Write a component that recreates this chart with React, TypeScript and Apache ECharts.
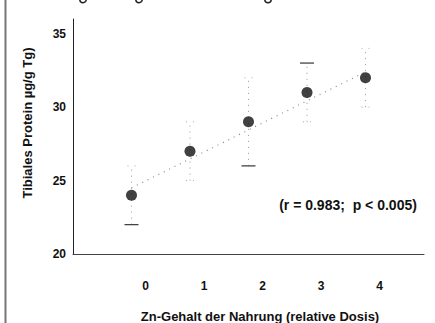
import React, { useEffect, useRef } from "react";
import * as echarts from "echarts";

// Data
const doses = [0, 1, 2, 3, 4];
const xTickLabels = ["0", "1", "2", "3", "4"];
const proteinMeans = [24, 27, 29, 31, 32];
const errLow = [22, 25, 26, 29, 30];
const errHigh = [26, 29, 32, 33, 34];
const regressionLine = [
  [0, 24.5],
  [4, 32.4],
];
const annotation = "(r = 0.983;  p < 0.005)";
const yTitle = "Tibiales Protein µg/g Tg)";
const xTitle = "Zn-Gehalt der Nahrung (relative Dosis)";

// cap appearance per point (style only): [lowerSolid, upperSolid]
const capSolid: [boolean, boolean][] = [
  [true, false],
  [false, false],
  [true, false],
  [false, true],
  [false, false],
];

const FONT = "'Liberation Sans', Arial, sans-serif";

export default function App() {
  const ref = useRef<HTMLDivElement>(null);
  useEffect(() => {
    if (!ref.current) return;
    const chart = echarts.init(ref.current, null, { renderer: "svg" });
    const errData = doses.map((d, i) => [d, errLow[i], errHigh[i]]);
    const option: any = {
      animation: false,
      backgroundColor: "#ffffff",
      grid: { left: 73, top: 19, right: 11, bottom: 69, containLabel: false },
      xAxis: {
        type: "value",
        min: -1,
        max: 5,
        interval: 1,
        axisLine: { show: true, onZero: false, lineStyle: { color: "#444", width: 1 } },
        axisTick: { show: false },
        splitLine: { show: false },
        axisLabel: {
          margin: 26,
          fontFamily: FONT,
          fontWeight: "bold",
          fontSize: 12,
          color: "#111",
          padding: [0, 0, 0, 28],
          formatter: (v: number) => {
            const idx = doses.indexOf(v);
            return idx >= 0 ? xTickLabels[idx] : "";
          },
        },
      },
      yAxis: {
        type: "value",
        min: 20,
        max: 36,
        interval: 5,
        axisLine: { show: true, onZero: false, lineStyle: { color: "#222", width: 1 } },
        axisTick: { show: false },
        splitLine: { show: false },
        axisLabel: {
          margin: 7,
          fontFamily: FONT,
          fontWeight: "bold",
          fontSize: 12,
          color: "#111",
          formatter: (v: number) => (v % 5 === 0 && v <= 35 ? String(v) : ""),
        },
      },
      series: [
        {
          type: "custom",
          data: errData,
          encode: { x: 0, y: [1, 2] },
          z: 1,
          renderItem: (params: any, api: any) => {
            const x = api.value(0);
            const lo = api.coord([x, api.value(1)]);
            const hi = api.coord([x, api.value(2)]);
            const solid = capSolid[params.dataIndex] || [false, false];
            const mk = (p: number[], s: boolean) => {
              const w = s ? 7 : 4;
              return {
                type: "line",
                shape: { x1: p[0] - w, y1: p[1], x2: p[0] + w, y2: p[1] },
                style: s
                  ? { stroke: "#444", lineWidth: 1.3 }
                  : { stroke: "#aaa", lineWidth: 1, lineDash: [1, 6] },
              };
            };
            return {
              type: "group",
              children: [
                {
                  type: "line",
                  shape: { x1: lo[0], y1: lo[1], x2: hi[0], y2: hi[1] },
                  style: { stroke: "#999", lineWidth: 1, lineDash: [1, 5] },
                },
                mk(lo, solid[0]),
                mk(hi, solid[1]),
              ],
            };
          },
        },
        {
          type: "line",
          data: regressionLine,
          showSymbol: false,
          symbol: "none",
          z: 2,
          lineStyle: { color: "#888", width: 1.2, type: [1, 5] },
        },
        {
          type: "scatter",
          data: doses.map((d, i) => [d, proteinMeans[i]]),
          symbol: "circle",
          symbolSize: 11,
          z: 3,
          itemStyle: { color: "#111" },
        },
      ],
      graphic: [
        {
          type: "line",
          shape: { x1: 5.5, y1: 0, x2: 5.5, y2: 323 },
          style: { stroke: "#777", lineWidth: 2 },
        },
        ...[83, 139, 268].map((gx) => ({
          type: "arc",
          shape: { cx: gx, cy: -0.5, r: 3.2, startAngle: 0, endAngle: Math.PI },
          style: { stroke: "#222", lineWidth: 1.5, fill: "none" },
        })),
        {
          type: "text",
          x: 27,
          y: 123,
          rotation: Math.PI / 2,
          style: {
            text: yTitle,
            fontFamily: FONT,
            fontWeight: "bold",
            fontSize: 13,
            fill: "#111",
            align: "center",
            verticalAlign: "middle",
          },
        },
        {
          type: "text",
          x: 260,
          y: 316,
          style: {
            text: xTitle,
            fontFamily: FONT,
            fontWeight: "bold",
            fontSize: 13,
            fill: "#111",
            align: "center",
            verticalAlign: "middle",
          },
        },
        {
          type: "text",
          x: 348,
          y: 205,
          style: {
            text: annotation,
            fontFamily: FONT,
            fontWeight: "bold",
            fontSize: 14,
            fill: "#111",
            align: "center",
            verticalAlign: "middle",
          },
        },
      ],
    };
    chart.setOption(option);
    return () => chart.dispose();
  }, []);
  return (
    <div
      ref={ref}
      style={{ position: "fixed", left: 0, top: 0, width: 435, height: 323, background: "#fff" }}
    />
  );
}
